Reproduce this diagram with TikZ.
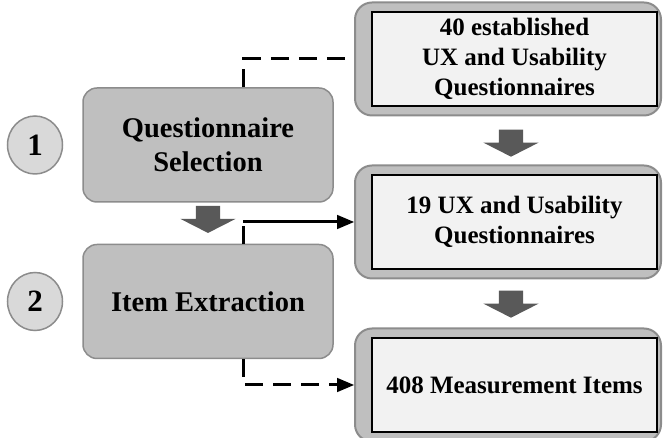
\documentclass[tikz,border=0pt]{standalone}
\usepackage{fontspec}
\setmainfont{Liberation Serif}
\usepackage{tikz}
\usetikzlibrary{positioning}
\usetikzlibrary{shapes.arrows,shapes.geometric}
\usetikzlibrary{arrows}

\definecolor{boxgray}{HTML}{BFBFBF}
\definecolor{edgegray}{HTML}{8C8C8C}
\definecolor{paleface}{HTML}{F2F2F2}
\definecolor{circgray}{HTML}{D9D9D9}
\definecolor{arrowgray}{HTML}{595959}

\begin{document}
\begin{tikzpicture}[x=1pt,y=1pt,>=triangle 45,
    stage node/.style={rectangle,rounded corners=14pt,draw=edgegray,line width=1.5pt,fill=boxgray,
      minimum width=250pt,minimum height=114pt,align=center,font=\bfseries\fontsize{28.5}{34}\selectfont},
    num node/.style={ellipse,draw=edgegray,line width=1.5pt,fill=circgray,minimum width=55pt,
      minimum height=58pt,inner sep=0pt,font=\bfseries\fontsize{31}{34}\selectfont},
    outer node/.style={rectangle,rounded corners=17pt,draw=edgegray,line width=2pt,fill=boxgray,
      minimum width=306pt,minimum height=113pt},
    inner node/.style={rectangle,draw=black,line width=1.2pt,fill=paleface,minimum width=285pt,
      minimum height=94pt,align=center,font=\bfseries\fontsize{25}{30}\selectfont},
    drop node/.style={single arrow,shape border rotate=270,fill=arrowgray,draw=none,
      inner xsep=12pt,inner ysep=0pt,minimum height=27pt,single arrow head extend=15.5pt,
      single arrow tip angle=126},
    dash link/.style={line width=3pt,dash pattern=on 18pt off 10pt},
    solid link/.style={line width=3pt}]

  \clip (0,0) rectangle (663,438);

  % steps on the left
  \node[stage node] (qs) at (208,293) {Questionnaire\\Selection};
  \node[stage node] (ie) [below=41pt of qs] {Item Extraction};
  \node[num node] (n1) [left=19pt of qs] {1};
  \node[num node] (n2) [left=19pt of ie] {2};
  \node[drop node] (d1) [below=3pt of qs] {};

  % results on the right
  \node[outer node] (pool-o) at (508,379) {};
  \node[inner node] (pool) [xshift=6.5pt] at (pool-o) {40 established\\UX and Usability\\Questionnaires};
  \node[outer node] (uxq-o) [below=48pt of pool-o] {};
  \node[inner node] (uxq) [xshift=6.5pt] at (uxq-o) {19 UX and Usability\\Questionnaires};
  \node[outer node] (items-o) [below=48pt of uxq-o] {};
  \node[inner node] (items) [xshift=6.5pt] at (items-o) {408 Measurement Items};
  \node[drop node] (d2) [below=13pt of pool-o,xshift=3pt] {};
  \node[drop node] (d3) [below=11pt of uxq-o,xshift=3pt] {};

  % links
  \path ([xshift=35pt]qs.north) coordinate (qs-tap)
        ([xshift=35pt]ie.north) coordinate (ie-tap)
        ([xshift=35pt]ie.south) coordinate (ie-out);
  \draw[dash link] (qs-tap) |- (pool-o.west);
  \draw[dash link] (ie-tap) -- (ie-tap |- uxq-o.west);
  \draw[solid link,->] (ie-tap |- uxq-o.west) -- (uxq-o.west);
  \draw[dash link,->] (ie-out) |- (items-o.west);
\end{tikzpicture}
\end{document}
